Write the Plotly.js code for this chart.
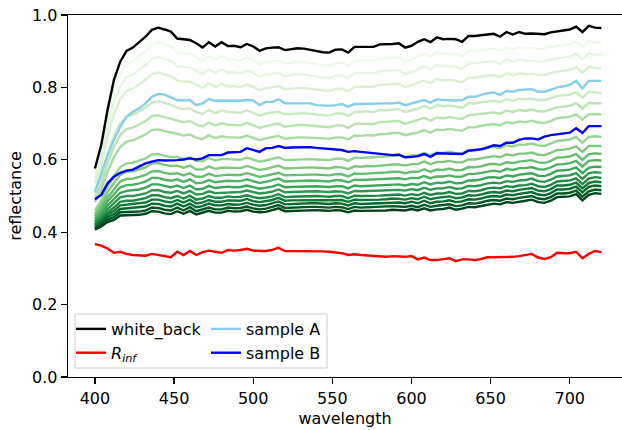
<!DOCTYPE html>
<html>
<head>
<meta charset="utf-8">
<script src="https://cdn.plot.ly/plotly-3.0.1.min.js"></script>
<style>html,body{margin:0;padding:0;background:#fff}#chart{width:622px;height:430px}</style>
</head>
<body>
<div id="chart"></div>
<script>
const wavelength = [400,404,408,412,416,420,424,428,432,436,440,444,448,452,456,460,464,468,472,476,480,484,488,492,496,500,
504,508,512,516,520,524,528,532,536,540,544,548,552,556,560,564,568,572,576,580,584,588,592,596,600,
604,608,612,616,620,624,628,632,636,640,644,648,652,656,660,664,668,672,676,680,684,688,692,696,700,704,708,712,716,720];

const white_back = [.576,.641,.738,.820,.871,.901,.910,.926,.940,.959,.965,.960,.954,.935,.933,.931,.922,.910,.925,.913,.925,.914,.915,.911,.920,.913,
.901,.908,.910,.911,.903,.906,.908,.907,.903,.899,.897,.896,.904,.905,.896,.912,.912,.914,.912,.919,.919,.920,.922,.910,.915,
.926,.933,.925,.938,.933,.934,.933,.926,.942,.942,.945,.946,.948,.940,.953,.946,.953,.948,.949,.947,.947,.952,.955,.957,.960,.968,.953,.970,.965,.964];

const R_inf = [.367,.363,.355,.343,.346,.340,.337,.335,.335,.340,.337,.332,.331,.346,.337,.348,.337,.345,.349,.346,.343,.351,.349,.351,.354,.349,
.348,.348,.351,.357,.348,.348,.347,.348,.349,.349,.347,.346,.345,.342,.337,.339,.337,.336,.334,.332,.332,.334,.332,.332,.334,
.325,.330,.323,.323,.325,.328,.320,.325,.325,.323,.326,.331,.331,.331,.332,.332,.334,.336,.340,.330,.326,.331,.343,.342,.342,.346,.328,.340,.348,.345];

const sample_A = [.512,.563,.613,.655,.691,.719,.733,.742,.756,.774,.782,.780,.772,.765,.764,.765,.751,.756,.768,.763,.764,.763,.763,.763,.765,.764,
.751,.760,.760,.767,.756,.756,.756,.758,.756,.751,.749,.749,.751,.754,.747,.754,.754,.755,.756,.756,.756,.756,.758,.751,.756,
.762,.765,.758,.767,.765,.764,.764,.765,.774,.774,.779,.784,.786,.779,.790,.788,.793,.793,.795,.788,.788,.793,.800,.803,.807,.818,.797,.818,.818,.818];

const sample_B = [.491,.503,.535,.553,.564,.570,.573,.581,.590,.595,.599,.598,.598,.599,.601,.604,.601,.604,.613,.612,.613,.620,.620,.622,.632,.627,
.622,.632,.633,.638,.633,.634,.635,.635,.635,.633,.632,.630,.629,.627,.622,.624,.622,.620,.619,.618,.616,.613,.614,.607,.608,
.610,.616,.608,.618,.618,.618,.618,.616,.625,.627,.629,.634,.640,.638,.647,.647,.655,.659,.659,.656,.664,.668,.670,.673,.675,.687,.674,.693,.693,.693];

const green_01 = [.562,.623,.713,.789,.836,.864,.872,.887,.900,.918,.924,.919,.913,.896,.894,.893,.883,.873,.887,.876,.887,.877,.878,.874,.883,.876,
.864,.871,.873,.874,.866,.869,.871,.870,.866,.863,.861,.860,.867,.868,.859,.874,.874,.876,.874,.880,.880,.882,.883,.872,.877,
.886,.893,.885,.897,.893,.894,.893,.886,.901,.901,.904,.905,.907,.900,.912,.905,.912,.908,.909,.906,.906,.911,.915,.916,.919,.927,.912,.928,.924,.923];
const green_02 = [.549,.605,.689,.758,.803,.829,.836,.850,.862,.879,.884,.879,.874,.859,.856,.856,.847,.837,.851,.840,.850,.841,.842,.839,.847,.840,
.830,.836,.838,.840,.831,.835,.837,.836,.833,.829,.827,.826,.833,.833,.825,.840,.840,.841,.839,.845,.845,.847,.848,.837,.842,
.851,.858,.850,.862,.858,.859,.857,.851,.865,.866,.869,.871,.872,.865,.877,.871,.877,.873,.874,.872,.872,.877,.881,.883,.885,.893,.877,.895,.890,.890];
const green_03 = [.535,.586,.663,.726,.768,.790,.797,.810,.821,.837,.841,.836,.831,.819,.816,.816,.807,.799,.812,.801,.810,.803,.803,.801,.808,.802,
.792,.798,.800,.803,.795,.797,.798,.798,.796,.793,.791,.790,.796,.797,.789,.802,.802,.803,.802,.807,.807,.809,.810,.801,.806,
.813,.819,.812,.823,.819,.821,.818,.814,.827,.827,.830,.832,.834,.828,.839,.833,.839,.836,.838,.834,.834,.840,.844,.846,.848,.855,.841,.857,.854,.853];
const green_04 = [.508,.551,.614,.665,.701,.719,.724,.735,.744,.758,.762,.757,.752,.744,.740,.742,.732,.727,.738,.729,.736,.732,.732,.730,.737,.730,
.722,.728,.730,.733,.725,.727,.729,.729,.727,.725,.723,.722,.728,.728,.721,.732,.732,.734,.732,.737,.737,.739,.740,.732,.737,
.741,.749,.741,.751,.748,.750,.747,.744,.756,.755,.759,.762,.763,.759,.768,.763,.769,.767,.769,.765,.765,.770,.776,.778,.780,.787,.772,.788,.787,.785];
const green_05 = [.496,.534,.591,.636,.669,.685,.689,.698,.707,.721,.723,.718,.714,.708,.704,.707,.697,.692,.703,.695,.701,.697,.697,.695,.702,.696,
.688,.693,.697,.700,.691,.694,.696,.696,.694,.692,.690,.690,.695,.695,.688,.699,.700,.700,.699,.704,.704,.707,.707,.699,.704,
.709,.716,.708,.717,.715,.718,.715,.713,.723,.724,.727,.729,.731,.727,.736,.732,.738,.735,.739,.734,.733,.739,.745,.747,.749,.757,.741,.757,.757,.756];
const green_06 = [.483,.517,.567,.607,.636,.650,.654,.662,.670,.682,.684,.679,.676,.672,.667,.670,.661,.657,.668,.660,.665,.662,.662,.661,.667,.661,
.654,.659,.662,.666,.658,.661,.662,.662,.661,.659,.658,.658,.662,.662,.656,.667,.666,.668,.667,.671,.671,.674,.674,.668,.672,
.675,.682,.675,.684,.682,.685,.682,.680,.690,.690,.694,.697,.699,.695,.704,.701,.706,.704,.708,.703,.702,.707,.715,.717,.719,.726,.711,.726,.727,.726];
const green_07 = [.460,.487,.525,.555,.580,.590,.592,.598,.604,.615,.616,.611,.608,.608,.602,.607,.597,.596,.605,.598,.602,.602,.601,.600,.606,.600,
.595,.598,.602,.607,.599,.600,.602,.603,.602,.601,.600,.599,.603,.603,.597,.606,.605,.606,.605,.608,.609,.611,.612,.607,.612,
.612,.619,.613,.620,.619,.622,.618,.617,.627,.626,.629,.634,.636,.632,.640,.637,.642,.642,.645,.640,.638,.644,.652,.654,.656,.663,.647,.663,.665,.663];
const green_08 = [.451,.475,.510,.536,.558,.567,.568,.574,.579,.590,.591,.586,.583,.584,.578,.584,.573,.573,.582,.575,.578,.578,.578,.577,.583,.577,
.572,.575,.579,.584,.576,.577,.579,.580,.579,.578,.577,.576,.580,.579,.574,.582,.581,.583,.582,.584,.585,.587,.587,.584,.588,
.588,.595,.588,.594,.594,.597,.593,.593,.601,.601,.604,.608,.610,.607,.615,.612,.617,.617,.620,.614,.613,.619,.627,.628,.631,.637,.622,.638,.639,.638];
const green_09 = [.444,.466,.496,.519,.540,.547,.548,.553,.558,.568,.569,.564,.561,.563,.557,.563,.553,.553,.562,.555,.558,.559,.558,.558,.563,.557,
.553,.556,.559,.564,.557,.558,.559,.560,.559,.559,.558,.557,.560,.560,.554,.562,.561,.562,.561,.564,.565,.567,.567,.563,.567,
.567,.574,.567,.573,.572,.576,.571,.572,.580,.579,.582,.587,.589,.586,.593,.591,.595,.596,.599,.593,.591,.597,.606,.607,.609,.616,.600,.615,.618,.616];
const green_10 = [.438,.457,.485,.505,.524,.530,.531,.535,.540,.550,.550,.545,.542,.546,.539,.546,.535,.537,.544,.538,.540,.542,.541,.541,.546,.540,
.536,.539,.543,.548,.540,.541,.542,.544,.543,.542,.541,.540,.544,.543,.538,.545,.544,.545,.544,.546,.547,.549,.549,.546,.550,
.549,.555,.549,.554,.554,.557,.553,.554,.561,.561,.564,.568,.570,.567,.575,.572,.577,.577,.580,.574,.573,.579,.587,.588,.591,.597,.581,.597,.599,.598];
const green_11 = [.432,.449,.474,.491,.509,.514,.515,.518,.523,.532,.532,.527,.524,.529,.522,.529,.518,.520,.528,.522,.523,.526,.524,.525,.529,.524,
.520,.523,.526,.532,.524,.525,.526,.527,.527,.527,.526,.525,.527,.527,.521,.529,.527,.528,.527,.529,.530,.532,.532,.529,.533,
.531,.538,.532,.537,.536,.540,.535,.536,.543,.543,.546,.551,.552,.550,.557,.554,.559,.560,.563,.556,.555,.561,.570,.571,.573,.579,.563,.578,.581,.580];
const green_12 = [.427,.442,.464,.479,.496,.500,.500,.503,.507,.516,.516,.511,.509,.514,.507,.514,.504,.506,.513,.508,.509,.511,.510,.511,.515,.510,
.507,.509,.512,.518,.510,.511,.512,.513,.513,.513,.512,.511,.513,.512,.507,.514,.513,.514,.513,.514,.515,.517,.517,.515,.519,
.516,.523,.517,.521,.521,.525,.520,.521,.528,.527,.530,.535,.537,.535,.541,.539,.543,.544,.548,.541,.539,.545,.554,.555,.557,.563,.547,.563,.566,.564];
const green_13 = [.422,.436,.455,.468,.484,.487,.487,.490,.494,.502,.502,.497,.494,.500,.493,.501,.490,.493,.500,.495,.495,.499,.497,.498,.502,.497,
.494,.496,.499,.505,.497,.498,.499,.500,.500,.500,.499,.498,.500,.500,.494,.501,.500,.500,.499,.501,.502,.504,.504,.501,.505,
.502,.509,.503,.507,.507,.511,.506,.507,.514,.513,.516,.521,.523,.521,.527,.525,.529,.530,.534,.527,.525,.531,.540,.541,.543,.549,.533,.548,.552,.550];
const green_14 = [.418,.431,.448,.459,.474,.476,.476,.479,.482,.490,.490,.485,.482,.489,.482,.490,.479,.482,.489,.484,.484,.488,.487,.487,.492,.486,
.483,.485,.489,.495,.487,.488,.488,.490,.490,.490,.489,.488,.490,.489,.484,.490,.489,.489,.488,.490,.491,.493,.492,.490,.494,
.491,.498,.491,.495,.496,.499,.494,.496,.502,.501,.504,.509,.511,.509,.515,.513,.517,.519,.522,.515,.513,.519,.529,.529,.531,.537,.521,.536,.540,.538];
const green_15 = [.414,.426,.441,.450,.464,.466,.466,.468,.471,.479,.478,.473,.471,.479,.471,.479,.469,.472,.479,.474,.474,.478,.476,.477,.481,.476,
.473,.475,.479,.485,.477,.478,.478,.480,.480,.480,.479,.478,.480,.479,.474,.480,.478,.479,.478,.479,.480,.482,.482,.480,.484,
.480,.487,.480,.484,.485,.488,.483,.485,.491,.490,.493,.498,.500,.498,.504,.502,.506,.508,.511,.504,.502,.508,.518,.518,.520,.526,.510,.525,.529,.527];
const green_16 = [.410,.421,.434,.442,.455,.456,.456,.457,.460,.468,.467,.462,.460,.468,.460,.469,.458,.462,.468,.463,.463,.468,.466,.467,.471,.466,
.463,.465,.469,.475,.467,.468,.468,.470,.470,.470,.469,.468,.470,.469,.464,.470,.468,.469,.468,.469,.470,.472,.471,.470,.473,
.469,.476,.470,.473,.474,.477,.472,.474,.480,.479,.482,.487,.489,.487,.493,.491,.495,.497,.500,.493,.491,.497,.507,.507,.509,.515,.498,.513,.518,.516];
const green_17 = [.407,.416,.428,.434,.446,.447,.446,.448,.451,.458,.457,.452,.450,.458,.451,.459,.449,.453,.459,.454,.454,.459,.457,.458,.462,.457,
.455,.456,.460,.466,.458,.459,.459,.461,.461,.461,.460,.459,.461,.460,.455,.460,.459,.459,.458,.459,.460,.462,.462,.460,.464,
.460,.466,.460,.463,.464,.468,.462,.465,.470,.469,.472,.477,.479,.477,.483,.481,.485,.487,.490,.483,.481,.487,.497,.497,.499,.505,.488,.503,.508,.506];

const green_lines = [green_01,green_02,green_03,green_04,green_05,green_06,green_07,green_08,green_09,
  green_10,green_11,green_12,green_13,green_14,green_15,green_16,green_17];

const xTicks = [400,450,500,550,600,650,700];
const yTicks = [0,0.2,0.4,0.6,0.8,1.0];

// matplotlib "Greens" colormap stops (style only)
const greensStops = ['#f7fcf5','#e5f5e0','#c7e9c0','#a1d99b','#74c476','#41ab5d','#238b45','#006d2c','#00441b'];
function hexToRgb(h){return [parseInt(h.slice(1,3),16),parseInt(h.slice(3,5),16),parseInt(h.slice(5,7),16)];}
function greens(p){
  const n = greensStops.length-1; const s = Math.min(Math.max(p,0),1)*n;
  const i = Math.min(Math.floor(s), n-1); const f = s-i;
  const a = hexToRgb(greensStops[i]), b = hexToRgb(greensStops[i+1]);
  return 'rgb('+a.map((v,j)=>Math.round(v+(b[j]-v)*f)).join(',')+')';
}

const traces = [];
green_lines.forEach((g,k)=>{
  traces.push({x: wavelength, y: g, type:'scatter', mode:'lines', showlegend:false, hoverinfo:'skip',
    line:{color: greens((k+1)/green_lines.length), width:2.4}});
});
traces.push({x: wavelength, y: white_back, type:'scatter', mode:'lines', name:'white_back',
  line:{color:'#000000', width:2.4}, legend:'legend'});
traces.push({x: wavelength, y: R_inf, type:'scatter', mode:'lines', name:'<i>R</i><sub><i>inf</i></sub>',
  line:{color:'#ff0000', width:2.4}, legend:'legend'});
traces.push({x: wavelength, y: sample_A, type:'scatter', mode:'lines', name:'sample A',
  line:{color:'#87ceeb', width:2.4}, legend:'legend2'});
traces.push({x: wavelength, y: sample_B, type:'scatter', mode:'lines', name:'sample B',
  line:{color:'#0000ff', width:2.4}, legend:'legend2'});

const PL = 68, PT = 15, PW = 554, PH = 362;
function px2paperX(px){return (px-PL)/PW;}
function px2paperY(py){return (PT+PH-py)/PH;}

const legendFont = {family:'DejaVu Sans, sans-serif', size:16, color:'#000'};
const layout = {
  width:622, height:430,
  margin:{l:PL, r:622-PL-PW, t:PT, b:430-PT-PH, pad:0},
  paper_bgcolor:'#ffffff', plot_bgcolor:'#ffffff',
  font:{family:'DejaVu Sans, sans-serif', size:16, color:'#000'},
  hovermode:false,
  xaxis:{range:[383,733], tickvals:xTicks, ticktext:xTicks.map(String), ticks:'outside', ticklen:6, tickwidth:1.3,
    tickcolor:'#000', showgrid:false, zeroline:false, showline:true, linecolor:'#000', linewidth:1.3, mirror:true,
    tickfont:{size:16}, title:{text:'wavelength', font:{size:16}, standoff:6}, automargin:false},
  yaxis:{range:[0,1], tickvals:yTicks, ticktext:yTicks.map(v=>v.toFixed(1)), ticks:'outside', ticklen:6, tickwidth:1.3,
    tickcolor:'#000', showgrid:false, zeroline:false, showline:true, linecolor:'#000', linewidth:1.3, mirror:false,
    tickfont:{size:16}, title:{text:'reflectance', font:{size:16}, standoff:6}, automargin:false},
  showlegend:true,
  legend:{x:px2paperX(71), y:px2paperY(312), xanchor:'left', yanchor:'top', bgcolor:'rgba(0,0,0,0)', borderwidth:0,
    font:legendFont, orientation:'v', tracegroupgap:0, itemwidth:30},
  legend2:{x:px2paperX(206), y:px2paperY(312), xanchor:'left', yanchor:'top', bgcolor:'rgba(0,0,0,0)', borderwidth:0,
    font:legendFont, orientation:'v', tracegroupgap:0, itemwidth:30},
  shapes:[{type:'rect', xref:'paper', yref:'paper', x0:px2paperX(75), x1:px2paperX(327), y0:px2paperY(368), y1:px2paperY(314),
    fillcolor:'rgba(255,255,255,0.8)', line:{color:'#cccccc', width:1}, layer:'above'}]
};

Plotly.newPlot('chart', traces, layout, {displayModeBar:false, staticPlot:true});
</script>
</body>
</html>
